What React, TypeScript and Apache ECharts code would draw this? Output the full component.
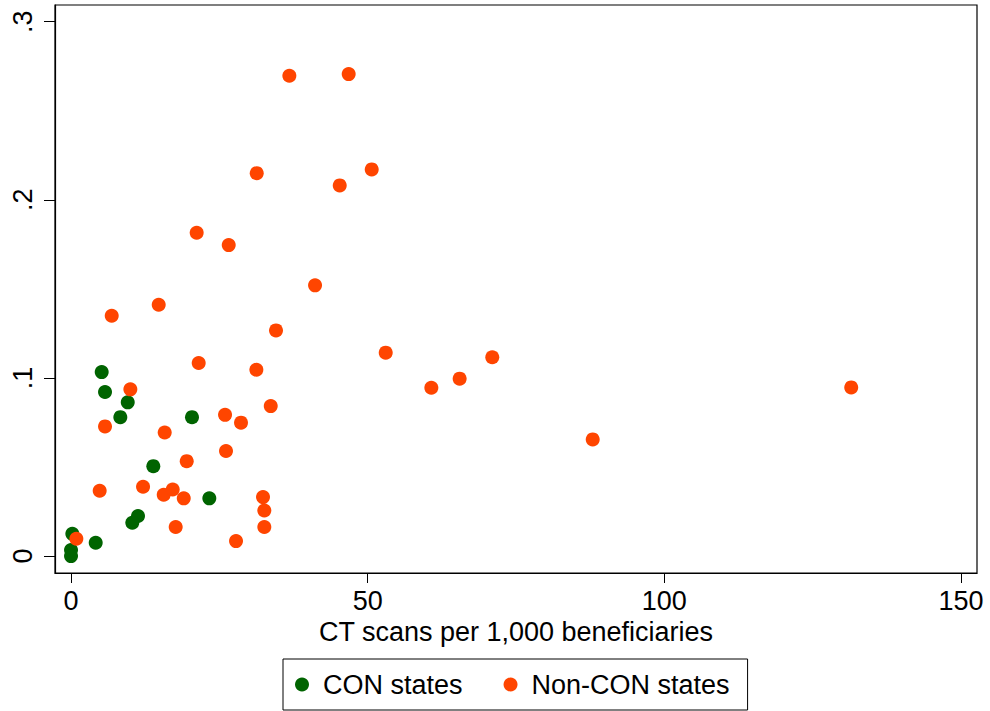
import React, { useEffect, useRef } from "react";
import * as echarts from "echarts";

const conStates: [number, number][] = [
  [5.17, 0.1033],
  [5.73, 0.0921],
  [9.56, 0.0863],
  [8.31, 0.078],
  [20.39, 0.078],
  [13.87, 0.0505],
  [23.31, 0.0324],
  [11.29, 0.0225],
  [10.33, 0.0187],
  [0.22, 0.0125],
  [4.16, 0.0075],
  [0.0, 0.0034],
  [0.0, 0.0],
];

const nonConStates: [number, number][] = [
  [10.0, 0.0936],
  [5.73, 0.0728],
  [15.79, 0.0694],
  [4.83, 0.0367],
  [12.14, 0.0389],
  [15.62, 0.0344],
  [17.14, 0.0374],
  [0.9, 0.0097],
  [17.64, 0.0163],
  [25.96, 0.0793],
  [28.65, 0.0749],
  [33.66, 0.0842],
  [26.12, 0.059],
  [19.5, 0.0533],
  [19.0, 0.0324],
  [32.36, 0.0331],
  [32.58, 0.0256],
  [32.58, 0.0163],
  [27.81, 0.0084],
  [21.18, 0.1815],
  [26.58, 0.1746],
  [41.13, 0.152],
  [14.78, 0.1411],
  [34.55, 0.1267],
  [21.52, 0.1084],
  [31.24, 0.1046],
  [6.86, 0.1349],
  [36.8, 0.2697],
  [46.8, 0.2706],
  [50.68, 0.2171],
  [45.29, 0.2081],
  [31.3, 0.215],
  [53.04, 0.1142],
  [60.73, 0.0945],
  [65.5, 0.0996],
  [71.0, 0.1116],
  [87.93, 0.0655],
  [131.5, 0.0947],
];

const xTicks = [0, 50, 100, 150];
const xTickLabels = ["0", "50", "100", "150"];
const yTicks = [0, 0.1, 0.2, 0.3];
const yTickLabels = ["0", ".1", ".2", ".3"];
const seriesNames = ["CON states", "Non-CON states"];
const xTitle = "CT scans per 1,000 beneficiaries";

const FONT = "'Liberation Sans', Arial, Helvetica, sans-serif";
const FS = 27;

function labelFor(ticks: number[], labels: string[], v: number): string {
  let best = 0;
  for (let i = 1; i < ticks.length; i++) {
    if (Math.abs(ticks[i] - v) < Math.abs(ticks[best] - v)) best = i;
  }
  return labels[best];
}

export default function App() {
  const ref = useRef<HTMLDivElement>(null);
  useEffect(() => {
    if (!ref.current) return;
    const chart = echarts.init(ref.current, null, { renderer: "svg" });
    chart.setOption({
      animation: false,
      backgroundColor: "#ffffff",
      textStyle: { fontFamily: FONT },
      grid: {
        left: 55,
        top: 5,
        right: 13,
        bottom: 138,
        show: true,
        borderColor: "#000",
        borderWidth: 1.2,
        outerBoundsMode: "none",
      },
      legend: {
        data: seriesNames,
        orient: "horizontal",
        left: 283,
        top: 659,
        padding: [12, 18, 12, 12],
        itemGap: 41,
        itemWidth: 14,
        itemHeight: 14,
        icon: "circle",
        borderColor: "#000",
        borderWidth: 1,
        backgroundColor: "#fff",
        textStyle: {
          fontSize: FS,
          fontFamily: FONT,
          color: "#000",
          padding: [0, 0, 0, 9],
        },
      },
      xAxis: {
        type: "value",
        min: -2.7,
        max: 152.7,
        name: xTitle,
        nameLocation: "middle",
        nameGap: 42,
        nameTextStyle: { fontSize: FS, color: "#000", fontFamily: FONT },
        splitLine: { show: false },
        axisLine: { show: true, onZero: false, lineStyle: { color: "#000", width: 1.2 } },
        axisTick: {
          show: true,
          length: 10,
          customValues: xTicks,
          lineStyle: { color: "#000", width: 1 },
        },
        axisLabel: {
          customValues: xTicks,
          fontSize: FS,
          color: "#000",
          margin: 14,
          fontFamily: FONT,
          formatter: (v: number) => labelFor(xTicks, xTickLabels, v),
        },
      },
      yAxis: {
        type: "value",
        min: -0.0095,
        max: 0.3094,
        splitLine: { show: false },
        axisLine: { show: true, onZero: false, lineStyle: { color: "#000", width: 1.2 } },
        axisTick: {
          show: true,
          length: 11,
          customValues: yTicks,
          lineStyle: { color: "#000", width: 1 },
        },
        axisLabel: {
          customValues: yTicks,
          fontSize: FS,
          color: "#000",
          margin: 19,
          rotate: 90,
          fontFamily: FONT,
          formatter: (v: number) => labelFor(yTicks, yTickLabels, v),
        },
      },
      series: [
        {
          name: seriesNames[0],
          type: "scatter",
          symbol: "circle",
          symbolSize: 14,
          itemStyle: { color: "#006400", opacity: 1 },
          data: conStates,
        },
        {
          name: seriesNames[1],
          type: "scatter",
          symbol: "circle",
          symbolSize: 14,
          itemStyle: { color: "#FF4500", opacity: 1 },
          data: nonConStates,
        },
      ],
    });
    return () => chart.dispose();
  }, []);
  return (
    <div
      ref={ref}
      style={{ position: "fixed", left: 0, top: 0, width: 990, height: 711, background: "#fff" }}
    />
  );
}
